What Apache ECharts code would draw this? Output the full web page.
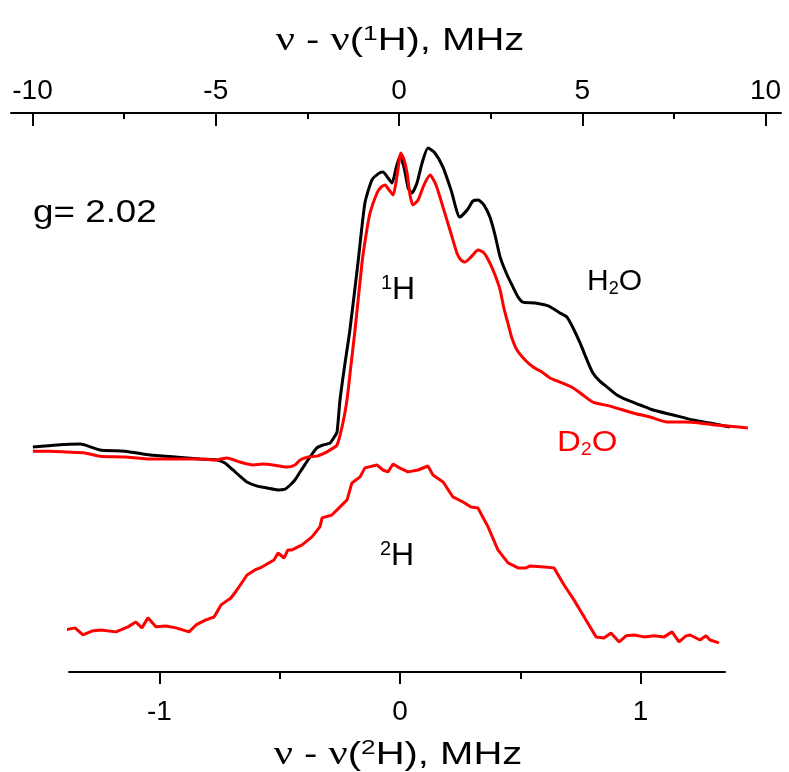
<!DOCTYPE html>
<html>
<head>
<meta charset="utf-8">
<script src="https://cdn.jsdelivr.net/npm/echarts@6/dist/echarts.min.js"></script>
<style>
  html, body { margin: 0; padding: 0; background: #fff; }
  #chart { width: 789px; height: 772px; }
</style>
</head>
<body>
<div id="chart"></div>
<script>
// ---- Data ----
// 1H ENDOR, H2O sample: frequency offset (MHz) and normalized signal
const h2oFreq = [-9.99,-9.33,-8.70,-8.16,-7.48,-6.79,-6.11,-5.43,-4.97,-4.75,-4.53,-4.34,-4.15,-3.87,-3.60,-3.30,-3.11,-2.97,-2.84,-2.70,-2.56,-2.43,-2.24,-2.07,-1.88,-1.75,-1.69,-1.61,-1.50,-1.34,-1.12,-0.93,-0.74,-0.57,-0.44,-0.30,-0.19,-0.08,0.03,0.14,0.25,0.35,0.49,0.63,0.79,0.98,1.20,1.42,1.66,1.86,2.02,2.16,2.32,2.48,2.62,2.76,2.95,3.11,3.25,3.38,3.71,4.07,4.39,4.58,4.75,4.94,5.13,5.29,5.48,5.68,5.95,6.22,6.58,6.93,7.48,8.02,8.49,8.76,9.03];
const h2oSignal = [0.000,0.007,0.010,-0.010,-0.014,-0.027,-0.034,-0.041,-0.044,-0.054,-0.078,-0.099,-0.119,-0.133,-0.139,-0.146,-0.143,-0.129,-0.112,-0.085,-0.058,-0.034,-0.003,0.007,0.014,0.037,0.051,0.160,0.262,0.398,0.626,0.830,0.908,0.929,0.935,0.915,0.898,0.949,0.990,0.949,0.881,0.864,0.898,0.966,1.017,1.000,0.952,0.874,0.782,0.806,0.837,0.840,0.823,0.782,0.721,0.646,0.585,0.544,0.510,0.493,0.490,0.480,0.456,0.442,0.405,0.354,0.296,0.252,0.224,0.204,0.177,0.160,0.143,0.126,0.109,0.092,0.082,0.075,0.068];

// 1H ENDOR, D2O sample
const d2oFreq = [-9.99,-9.52,-9.06,-8.57,-8.16,-7.48,-6.79,-6.11,-5.43,-5.02,-4.69,-4.34,-3.98,-3.71,-3.44,-3.06,-2.84,-2.70,-2.48,-2.24,-2.02,-1.88,-1.69,-1.53,-1.42,-1.31,-1.20,-1.01,-0.90,-0.79,-0.60,-0.49,-0.38,-0.27,-0.16,-0.05,0.05,0.14,0.22,0.30,0.38,0.52,0.68,0.85,1.01,1.20,1.39,1.58,1.69,1.80,1.96,2.16,2.32,2.48,2.62,2.76,2.86,2.97,3.08,3.22,3.44,3.66,3.90,4.12,4.39,4.75,5.02,5.29,5.76,6.38,6.85,7.31,7.80,8.21,8.62,9.03,9.52];
const d2oSignal = [-0.014,-0.014,-0.017,-0.020,-0.031,-0.034,-0.041,-0.041,-0.041,-0.044,-0.037,-0.051,-0.061,-0.058,-0.061,-0.068,-0.061,-0.044,-0.034,-0.031,-0.020,-0.010,0.007,0.082,0.160,0.279,0.398,0.626,0.721,0.796,0.864,0.884,0.891,0.874,0.857,0.925,1.000,0.976,0.932,0.857,0.823,0.840,0.891,0.925,0.891,0.816,0.738,0.660,0.636,0.629,0.646,0.670,0.660,0.626,0.585,0.534,0.473,0.422,0.371,0.330,0.296,0.272,0.255,0.235,0.221,0.201,0.177,0.153,0.139,0.116,0.102,0.085,0.085,0.082,0.075,0.071,0.065];

// 2H ENDOR (bottom axis)
const deutFreq = [-1.414,-1.393,-1.351,-1.318,-1.281,-1.243,-1.181,-1.131,-1.098,-1.073,-1.048,-1.015,-0.973,-0.931,-0.877,-0.848,-0.807,-0.773,-0.744,-0.703,-0.678,-0.636,-0.603,-0.574,-0.524,-0.507,-0.482,-0.466,-0.449,-0.407,-0.366,-0.333,-0.324,-0.283,-0.241,-0.220,-0.200,-0.166,-0.146,-0.096,-0.071,-0.050,-0.029,-0.008,0.033,0.075,0.116,0.137,0.179,0.220,0.262,0.295,0.324,0.366,0.407,0.449,0.491,0.524,0.541,0.599,0.640,0.682,0.723,0.773,0.815,0.848,0.877,0.911,0.940,0.973,1.015,1.056,1.098,1.131,1.160,1.189,1.206,1.247,1.272,1.289,1.326];
const deutSignal = [0.000,0.046,0.058,0.017,0.040,0.046,0.035,0.064,0.092,0.058,0.116,0.064,0.069,0.058,0.035,0.075,0.104,0.121,0.191,0.231,0.277,0.364,0.393,0.410,0.451,0.491,0.462,0.509,0.509,0.538,0.584,0.642,0.694,0.711,0.769,0.798,0.896,0.931,0.983,1.000,0.971,0.960,1.006,0.988,0.960,0.971,0.994,0.942,0.902,0.815,0.786,0.757,0.751,0.642,0.509,0.434,0.405,0.405,0.416,0.410,0.405,0.306,0.220,0.104,0.006,0.000,0.029,-0.023,0.012,0.017,0.006,0.012,0.006,0.035,-0.023,0.012,0.017,-0.012,0.012,-0.012,-0.029];

// Tick values
const topMajorTicks = [-10, -5, 0, 5, 10];
const topMinorTicks = [-7.5, -2.5, 2.5, 7.5];
const bottomMajorTicks = [-1, 0, 1];
const bottomMinorTicks = [-0.5, 0.5];

const zip = (xs, ys) => xs.map((x, i) => [x, ys[i]]);

const FONT = 'Liberation Sans, Arial, sans-serif';
const chart = echarts.init(document.getElementById('chart'), null, { renderer: 'canvas' });

const topRange = { min: -10.587, max: 10.423 };
const botRange = { min: -1.376, max: 1.351 };
const gridTop = { left: 11, right: 8, top: 113, bottom: 100 };
const gridBot = { left: 69, right: 64, top: 113, bottom: 100 };

const axisLineStyle = { color: '#000', width: 2 };

function richTitle(iso) {
  return '{n|ν} - {n|ν}({s|' + iso + '}H), MHz';
}
const titleRich = {
  n: { fontFamily: 'Liberation Serif, serif', fontSize: 34, lineHeight: 34, fill: '#000' },
  s: { fontFamily: FONT, fontSize: 21, lineHeight: 6, verticalAlign: 'top', fill: '#000' }
};

const LINE_W = 3;

const option = {
  animation: false,
  backgroundColor: '#fff',
  grid: [
    Object.assign({}, gridTop),
    Object.assign({}, gridBot),
    Object.assign({}, gridTop),
    Object.assign({}, gridBot)
  ],
  xAxis: [
    {
      type: 'value', gridIndex: 0, position: 'top', min: topRange.min, max: topRange.max,
      axisLine: { show: true, onZero: false, lineStyle: axisLineStyle },
      axisTick: { show: true, inside: true, length: 13, lineStyle: { color: '#000', width: 2 }, customValues: topMajorTicks },
      axisLabel: { show: true, customValues: topMajorTicks, fontSize: 28, fontFamily: FONT, color: '#000', margin: 8,
        formatter: v => String(v) },
      splitLine: { show: false }
    },
    {
      type: 'value', gridIndex: 1, position: 'bottom', min: botRange.min, max: botRange.max,
      axisLine: { show: true, onZero: false, lineStyle: axisLineStyle },
      axisTick: { show: true, inside: false, length: 12, lineStyle: { color: '#000', width: 2 }, customValues: bottomMajorTicks },
      axisLabel: { show: true, customValues: bottomMajorTicks, fontSize: 28, fontFamily: FONT, color: '#000', margin: 26,
        formatter: v => String(v) },
      splitLine: { show: false }
    },
    {
      type: 'value', gridIndex: 2, position: 'top', min: topRange.min, max: topRange.max,
      axisLine: { show: false, onZero: false },
      axisTick: { show: true, inside: true, length: 6, lineStyle: { color: '#000', width: 2 }, customValues: topMinorTicks },
      axisLabel: { show: false },
      splitLine: { show: false }
    },
    {
      type: 'value', gridIndex: 3, position: 'bottom', min: botRange.min, max: botRange.max,
      axisLine: { show: false, onZero: false },
      axisTick: { show: true, inside: false, length: 7, lineStyle: { color: '#000', width: 2 }, customValues: bottomMinorTicks },
      axisLabel: { show: false },
      splitLine: { show: false }
    }
  ],
  yAxis: [
    { type: 'value', gridIndex: 0, min: -0.765, max: 1.136, show: false },
    { type: 'value', gridIndex: 1, min: -0.197, max: 3.035, show: false },
    { type: 'value', gridIndex: 2, min: 0, max: 1, show: false },
    { type: 'value', gridIndex: 3, min: 0, max: 1, show: false }
  ],
  series: [
    {
      name: 'H2O', type: 'line', xAxisIndex: 0, yAxisIndex: 0,
      data: zip(h2oFreq, h2oSignal), showSymbol: false, smooth: 0.2, clip: false,
      lineStyle: { color: '#000', width: LINE_W }, z: 2
    },
    {
      name: 'D2O', type: 'line', xAxisIndex: 0, yAxisIndex: 0,
      data: zip(d2oFreq, d2oSignal), showSymbol: false, smooth: 0.2, clip: false,
      lineStyle: { color: '#ff0000', width: LINE_W }, z: 3
    },
    {
      name: '2H', type: 'line', xAxisIndex: 1, yAxisIndex: 1,
      data: zip(deutFreq, deutSignal), showSymbol: false, smooth: false, clip: false,
      lineStyle: { color: '#ff0000', width: LINE_W }, z: 3
    }
  ],
  graphic: [
    { type: 'text', x: 400, y: 41, scaleX: 1.25, style: { text: richTitle('1'), fontSize: 32, fontFamily: FONT, lineHeight: 34, fill: '#000',
        align: 'center', verticalAlign: 'middle', textAlign: 'center', textVerticalAlign: 'middle', rich: titleRich } },
    { type: 'text', x: 398, y: 755, scaleX: 1.25, style: { text: richTitle('2'), fontSize: 32, fontFamily: FONT, lineHeight: 34, fill: '#000',
        align: 'center', verticalAlign: 'middle', textAlign: 'center', textVerticalAlign: 'middle', rich: titleRich } },
    { type: 'text', x: 33, y: 213, scaleX: 1.15, style: { text: 'g= 2.02', fontSize: 32, fontFamily: FONT, fill: '#000',
        align: 'left', verticalAlign: 'middle', textAlign: 'left', textVerticalAlign: 'middle' } },
    { type: 'text', x: 381, y: 290, style: { text: '{s|1}H', fontSize: 32, fontFamily: FONT, lineHeight: 34, fill: '#000',
        align: 'left', verticalAlign: 'middle', textAlign: 'left', textVerticalAlign: 'middle',
        rich: { s: { fontSize: 20, fontFamily: FONT, lineHeight: 12, verticalAlign: 'top', fill: '#000' } } } },
    { type: 'text', x: 380, y: 556, style: { text: '{s|2}H', fontSize: 32, fontFamily: FONT, lineHeight: 34, fill: '#000',
        align: 'left', verticalAlign: 'middle', textAlign: 'left', textVerticalAlign: 'middle',
        rich: { s: { fontSize: 20, fontFamily: FONT, lineHeight: 12, verticalAlign: 'top', fill: '#000' } } } },
    { type: 'text', x: 587, y: 282, style: { text: 'H{b|2}O', fontSize: 30, fontFamily: FONT, lineHeight: 32, fill: '#000',
        align: 'left', verticalAlign: 'middle', textAlign: 'left', textVerticalAlign: 'middle',
        rich: { b: { fontSize: 18, fontFamily: FONT, lineHeight: 16, verticalAlign: 'bottom', fill: '#000' } } } },
    { type: 'text', x: 557, y: 443, scaleX: 1.1, style: { text: 'D{b|2}O', fontSize: 30, fontFamily: FONT, lineHeight: 32, fill: '#ff0000',
        align: 'left', verticalAlign: 'middle', textAlign: 'left', textVerticalAlign: 'middle',
        rich: { b: { fontSize: 18, fontFamily: FONT, lineHeight: 16, verticalAlign: 'bottom', fill: '#ff0000' } } } }
  ]
};

chart.setOption(option);
</script>
</body>
</html>
